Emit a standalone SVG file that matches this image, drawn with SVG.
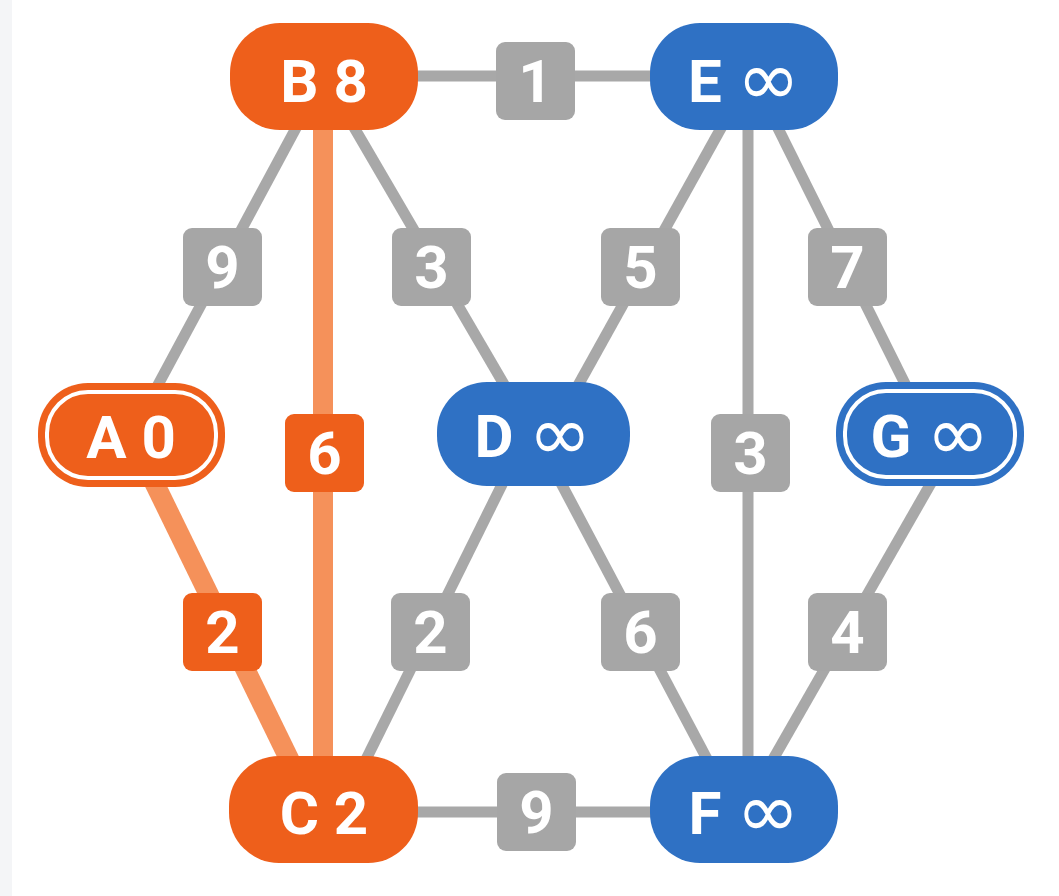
<svg xmlns="http://www.w3.org/2000/svg" width="1059" height="896" viewBox="0 0 1059 896">
<style>
.e{stroke:#A8A8A8;stroke-width:11;fill:none}
.eo{stroke:#F5915A;stroke-width:20;fill:none}
.no{fill:#EE5F1B}
.nb{fill:#2F71C4}
.ring{fill:none;stroke:#FFFFFF;stroke-width:4}
.bx{fill:#A6A6A6}
.bxo{fill:#EE5F1B}
.t{font-family:Roboto,"Liberation Sans",sans-serif;font-weight:700;font-size:60px;fill:#FFFFFF;text-anchor:middle}
.inf{font-family:"DejaVu Sans",sans-serif;font-weight:400;font-size:76px}
</style>
<rect x="0" y="0" width="1059" height="896" fill="#FFFFFF"/>
<rect x="0" y="0" width="12" height="896" fill="#F4F5F7"/>
<g id="connectors">
<line class="e" x1="324" y1="76" x2="744" y2="76"/>
<line class="e" x1="324" y1="76" x2="131" y2="435"/>
<line class="e" x1="324" y1="76" x2="533" y2="434"/>
<line class="e" x1="750" y1="76" x2="551" y2="434"/>
<line class="e" x1="752" y1="76" x2="930" y2="434"/>
<line class="e" x1="748" y1="76" x2="748" y2="810"/>
<line class="e" x1="527" y1="434" x2="341" y2="810"/>
<line class="e" x1="535" y1="434" x2="734" y2="810"/>
<line class="e" x1="950" y1="450" x2="744" y2="810"/>
<line class="e" x1="324" y1="812" x2="744" y2="812"/>
<line class="eo" x1="131" y1="435" x2="314" y2="810"/>
<line class="eo" x1="323" y1="76" x2="323" y2="810"/>
<g id="w-BE"><rect class="bx" x="496" y="42" width="79" height="78" rx="9"/><text class="t" x="535.5" y="102">1</text></g>
<g id="w-AB"><rect class="bx" x="183" y="228" width="79" height="78" rx="9"/><text class="t" x="222.5" y="288">9</text></g>
<g id="w-BD"><rect class="bx" x="392" y="228" width="79" height="78" rx="9"/><text class="t" x="431.5" y="288">3</text></g>
<g id="w-ED"><rect class="bx" x="601" y="228" width="79" height="78" rx="9"/><text class="t" x="640.5" y="288">5</text></g>
<g id="w-EG"><rect class="bx" x="808" y="228" width="79" height="78" rx="9"/><text class="t" x="847.5" y="288">7</text></g>
<g id="w-BC"><rect class="bxo" x="285" y="414" width="79" height="78" rx="9"/><text class="t" x="324.5" y="474">6</text></g>
<g id="w-EF"><rect class="bx" x="711" y="414" width="79" height="78" rx="9"/><text class="t" x="750.5" y="474">3</text></g>
<g id="w-AC"><rect class="bxo" x="183" y="593" width="79" height="78" rx="9"/><text class="t" x="222.5" y="653">2</text></g>
<g id="w-DC"><rect class="bx" x="391" y="593" width="79" height="78" rx="9"/><text class="t" x="430.5" y="653">2</text></g>
<g id="w-DF"><rect class="bx" x="601" y="593" width="79" height="78" rx="9"/><text class="t" x="640.5" y="653">6</text></g>
<g id="w-GF"><rect class="bx" x="808" y="593" width="79" height="78" rx="9"/><text class="t" x="847.5" y="653">4</text></g>
<g id="w-CF"><rect class="bx" x="497" y="773" width="79" height="78" rx="9"/><text class="t" x="536.5" y="833">9</text></g>
</g>
<g id="node-B"><rect class="no" x="230" y="23" width="188" height="107" rx="50"/><text class="t" x="324" y="102">B 8</text></g>
<g id="node-E"><rect class="nb" x="650" y="23" width="188" height="107" rx="50"/><text class="t" x="744" y="102">E <tspan class="inf" dy="3">∞</tspan></text></g>
<g id="node-A"><rect class="no" x="38" y="383" width="187" height="104" rx="50"/><rect class="ring" x="47" y="392" width="169" height="86" rx="41"/><text class="t" x="131" y="458">A 0</text></g>
<g id="node-D"><rect class="nb" x="437" y="382" width="193" height="104" rx="50"/><text class="t" x="533" y="457">D <tspan class="inf" dy="3">∞</tspan></text></g>
<g id="node-G"><rect class="nb" x="836" y="382" width="188" height="104" rx="50"/><rect class="ring" x="845" y="391" width="170" height="86" rx="41"/><text class="t" x="930" y="457">G <tspan class="inf" dy="3">∞</tspan></text></g>
<g id="node-C"><rect class="no" x="229" y="756" width="189" height="107" rx="50"/><text class="t" x="324" y="834">C 2</text></g>
<g id="node-F"><rect class="nb" x="650" y="756" width="188" height="107" rx="50"/><text class="t" x="744" y="834">F <tspan class="inf" dy="3">∞</tspan></text></g>
</svg>
